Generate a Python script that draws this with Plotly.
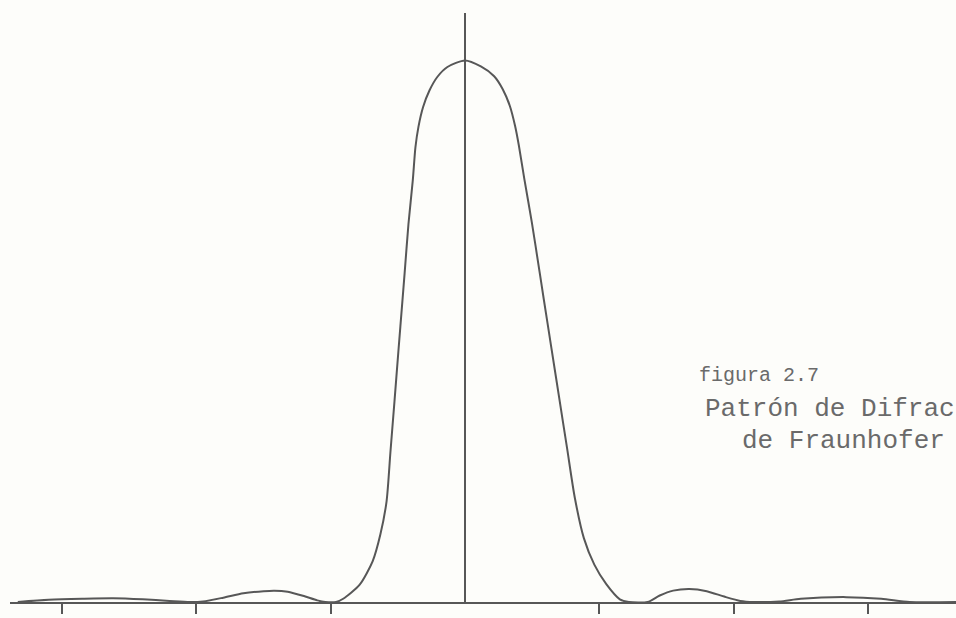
import plotly.graph_objects as go

# Positions along the screen in units of the tick spacing (0 = centre line)
position = [
    -3.33, -3.10, -2.85, -2.62, -2.40, -2.20, -2.05,
    -1.95, -1.80, -1.65, -1.50, -1.42, -1.32, -1.20, -1.10, -1.04,
    -0.96, -0.907, -0.784, -0.688, -0.630, -0.584, -0.555, -0.525,
    -0.496, -0.466, -0.450, -0.421, -0.389, -0.369, -0.347, -0.312,
    -0.264, -0.205, -0.131, 0.0,
    0.118, 0.217, 0.281, 0.334, 0.373, 0.401, 0.442, 0.497, 0.555,
    0.586, 0.644, 0.702, 0.760, 0.818, 0.885, 0.963, 1.052, 1.153,
    1.22, 1.36, 1.45, 1.55, 1.67, 1.80, 1.93, 2.05,
    2.15, 2.34, 2.50, 2.84, 3.10, 3.31, 3.66,
]
# Relative intensity (peak = 1)
intensity = [
    0.000, 0.004, 0.006, 0.007, 0.005, 0.002, 0.000,
    0.001, 0.008, 0.016, 0.020, 0.021, 0.019, 0.011, 0.003, 0.000,
    0.000, 0.006, 0.032, 0.075, 0.125, 0.186, 0.278, 0.371,
    0.463, 0.556, 0.606, 0.698, 0.778, 0.840, 0.877, 0.914,
    0.945, 0.970, 0.988, 1.000,
    0.989, 0.971, 0.947, 0.916, 0.879, 0.843, 0.781, 0.702, 0.610,
    0.560, 0.468, 0.376, 0.284, 0.192, 0.118, 0.069, 0.033, 0.005,
    0.000, 0.000, 0.012, 0.021, 0.024, 0.020, 0.010, 0.002,
    0.000, 0.001, 0.006, 0.009, 0.006, 0.000, 0.000,
]
tick_positions = [-3, -2, -1, 1, 2, 3]

caption_lines = ["figura 2.7", "Patrón de Difrac", "de Fraunhofer"]

ink = "#575757"

fig = go.Figure()
fig.add_trace(go.Scatter(
    x=position, y=intensity, mode="lines",
    line=dict(color=ink, width=2, shape="spline", smoothing=0.7),
    cliponaxis=False, hoverinfo="skip", showlegend=False,
))

W, H = 956, 618
left, right, top, bottom = 10, 0, 13, 16
plot_w = W - left - right
plot_h = H - top - bottom

def px_to_paper(px, py):
    return (px - left) / plot_w, (H - bottom - py) / plot_h

caption_px = [(697, 376), (703, 409), (740, 441)]
caption_size = [20, 26, 26]
for text, (px, py), size in zip(caption_lines, caption_px, caption_size):
    xp, yp = px_to_paper(px, py)
    fig.add_annotation(
        text=text, x=xp, y=yp, xref="paper", yref="paper",
        xanchor="left", yanchor="middle", showarrow=False,
        font=dict(family="Liberation Mono", size=size, color="#6a6a6a"),
    )

fig.update_layout(
    width=W, height=H,
    margin=dict(l=left, r=right, t=top, b=bottom),
    paper_bgcolor="#fdfdfa", plot_bgcolor="#fdfdfa",
    xaxis=dict(
        range=[-3.388, 3.656], showgrid=False,
        showline=True, linecolor=ink, linewidth=2,
        zeroline=True, zerolinecolor=ink, zerolinewidth=2,
        ticks="outside", ticklen=10, tickwidth=2, tickcolor=ink,
        tickvals=tick_positions, showticklabels=False, fixedrange=True,
    ),
    yaxis=dict(range=[0, 1.0877], visible=False, fixedrange=True),
)

fig.write_html(
    "out.html",
    config={"displayModeBar": False, "staticPlot": True},
    post_script="document.body.style.margin='0';document.body.style.overflow='hidden';",
)
